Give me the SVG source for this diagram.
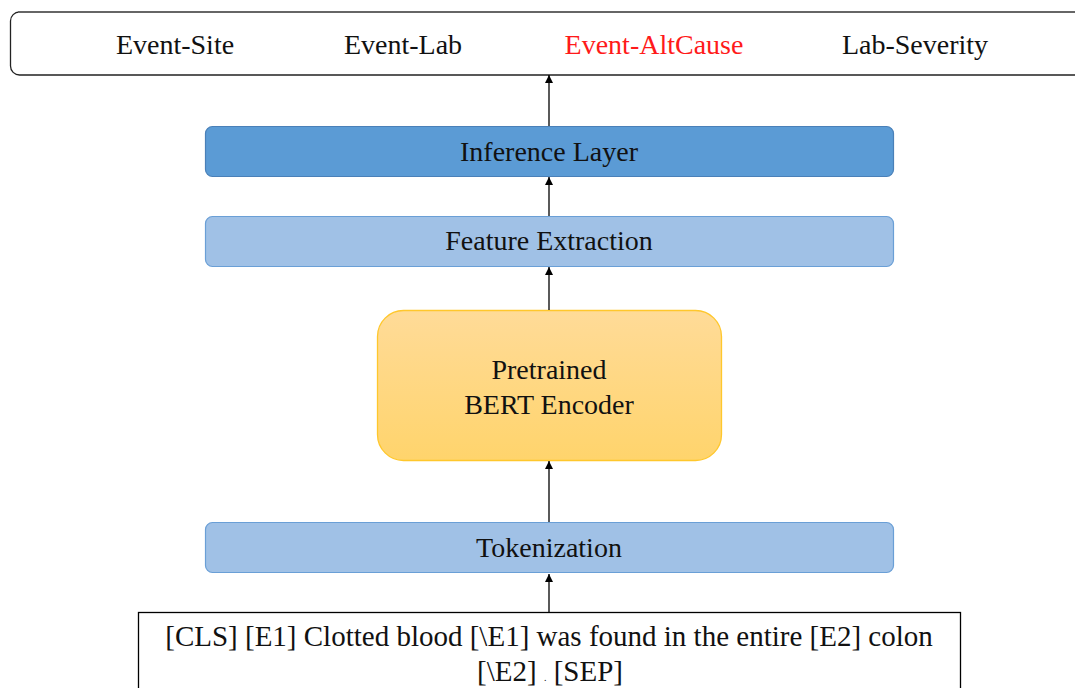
<svg xmlns="http://www.w3.org/2000/svg" width="1075" height="688" viewBox="0 0 1075 688">
<style>
.t{font-family:"Liberation Serif","Times New Roman",serif;font-size:28px;fill:#111;text-anchor:middle}
.lt{fill:#A0C1E6;stroke:#6A9FD6;stroke-width:1.2}
.cn{stroke:#000;stroke-width:1.3;fill:none}
</style>
<defs>
<marker id="ah" viewBox="0 0 10 10" refX="10" refY="5" markerWidth="8" markerHeight="8" markerUnits="userSpaceOnUse" orient="auto">
<path d="M0,0 L10,5 L0,10 z" fill="#000"/>
</marker>
<linearGradient id="og" x1="0" y1="0" x2="0" y2="1">
<stop offset="0" stop-color="#FFDB98"/>
<stop offset="1" stop-color="#FFD46C"/>
</linearGradient>
</defs>
<g id="output">
<rect x="10.5" y="12" width="1080" height="63" rx="9" fill="#fff" stroke="#222" stroke-width="1.3"/>
<line x1="18" y1="12" x2="1075" y2="12" stroke="#666" stroke-width="2"/>
<text class="t" x="175" y="54">Event-Site</text>
<text class="t" x="403" y="54">Event-Lab</text>
<text class="t" x="654" y="54" style="fill:#FF1A1A">Event-AltCause</text>
<text class="t" x="915" y="54">Lab-Severity</text>
</g>
<g id="inference">
<rect x="205.5" y="126.5" width="688" height="50" rx="7" fill="#5B9BD5" stroke="#4A80B8" stroke-width="1.2"/>
<text class="t" x="549" y="161">Inference Layer</text>
</g>
<g id="feature">
<rect class="lt" x="205.5" y="216.5" width="688" height="50" rx="7"/>
<text class="t" x="549" y="250">Feature Extraction</text>
</g>
<g id="bert">
<rect x="377.5" y="310.5" width="344" height="150" rx="26" fill="url(#og)" stroke="#FFC72C" stroke-width="1.3"/>
<text class="t" x="549" y="379">Pretrained</text>
<text class="t" x="549" y="414">BERT Encoder</text>
</g>
<g id="tokenization">
<rect class="lt" x="205.5" y="522.5" width="688" height="50" rx="7"/>
<text class="t" x="549" y="557">Tokenization</text>
</g>
<g id="input">
<rect x="138.5" y="612.5" width="822" height="90" fill="#fff" stroke="#000" stroke-width="1.3"/>
<text class="t" x="549" y="646" style="font-size:29px">[CLS] [E1] Clotted blood [\E1] was found in the entire [E2] colon</text>
<text class="t" x="550" y="681" style="font-size:29px">[\E2] <tspan font-size="10">.</tspan> [SEP]</text>
</g>
<g id="connectors">
<line class="cn" x1="549" y1="612" x2="549" y2="574" marker-end="url(#ah)"/>
<line class="cn" x1="549" y1="522" x2="549" y2="461" marker-end="url(#ah)"/>
<line class="cn" x1="549" y1="310" x2="549" y2="267" marker-end="url(#ah)"/>
<line class="cn" x1="549" y1="216" x2="549" y2="177" marker-end="url(#ah)"/>
<line class="cn" x1="549" y1="126" x2="549" y2="75" marker-end="url(#ah)"/>
</g>
</svg>
